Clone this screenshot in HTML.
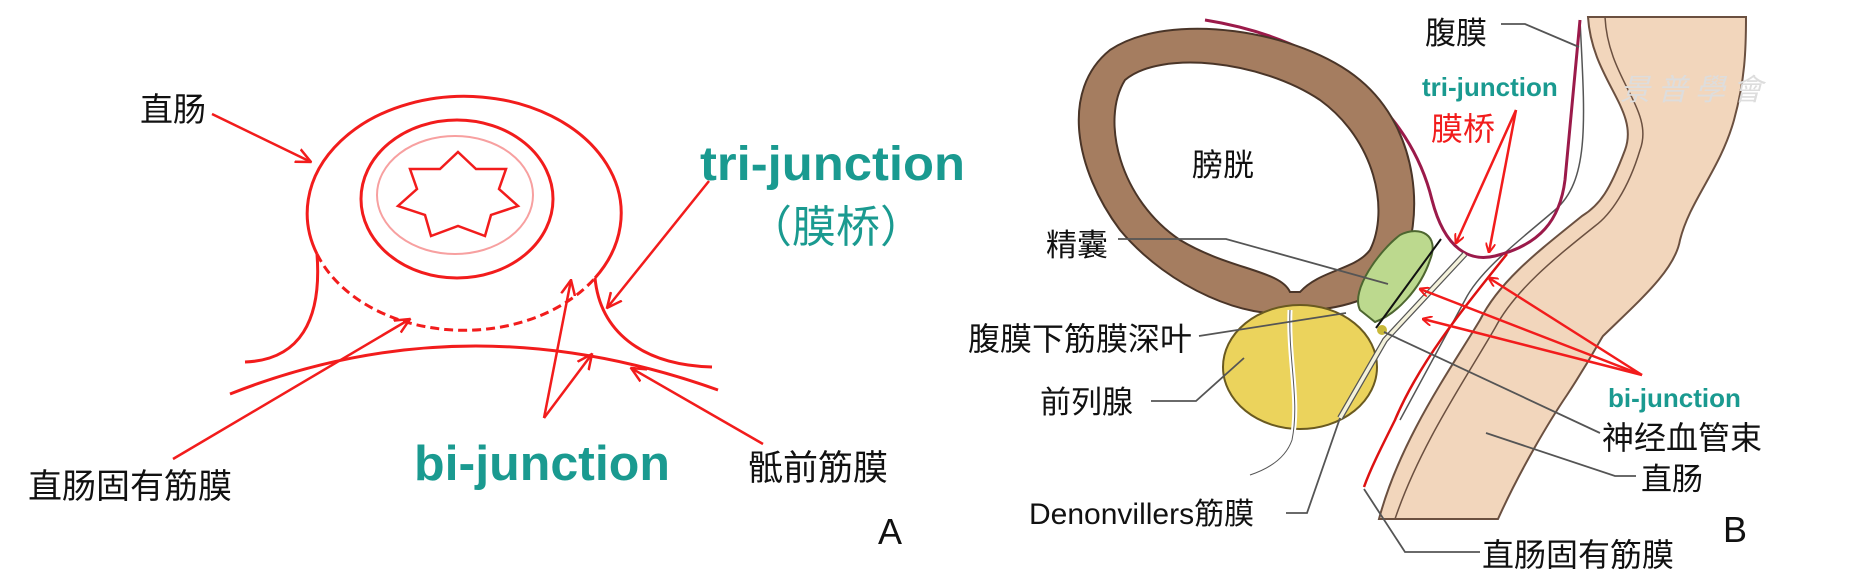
<!DOCTYPE html>
<html><head><meta charset="utf-8"><style>
html,body{margin:0;padding:0;background:#fff;}
svg{display:block;}
.cn{font-family:"Liberation Sans","Noto Sans CJK SC",sans-serif;fill:#111;}
.tl{font-family:"Liberation Sans","Noto Sans CJK SC",sans-serif;fill:#1a9a90;font-weight:bold;}
</style></head><body>
<svg width="1866" height="582" viewBox="0 0 1866 582" xmlns="http://www.w3.org/2000/svg">
<defs>
<marker id="ar" markerWidth="10" markerHeight="10" refX="9" refY="5" orient="auto" markerUnits="userSpaceOnUse" viewBox="0 0 10 10">
<path d="M0,0 L10,5 L0,10" fill="none" stroke="#f21c1c" stroke-width="2"/></marker>
<marker id="ar2" markerWidth="16" markerHeight="16" refX="15" refY="8" orient="auto" markerUnits="userSpaceOnUse" viewBox="0 0 16 16">
<path d="M0,1 L15,8 L0,15" fill="none" stroke="#f21c1c" stroke-width="2.5"/></marker>
</defs>
<!-- PANEL A -->
<g fill="none" stroke="#f21c1c" stroke-width="3">
<path d="M317,254 A157,117 0 1 1 595,278"/>
<path d="M317,254 A157,117 0 0 0 595,278" stroke-dasharray="9,5"/>
<ellipse cx="457" cy="199" rx="96" ry="79"/>
<ellipse cx="455" cy="195" rx="78" ry="59" stroke="#f7a0a0" stroke-width="2"/>
<polygon points="458,152 476,169 506,169 499,189 518,206 491,215 485,236 458,226 431,236 425,215 398,206 417,189 410,169 440,169" stroke-width="2.5"/>
<path d="M317,254 C322,320 300,360 245,362"/>
<path d="M595,278 C600,330 640,365 712,367"/>
<path d="M230,394 Q467,300 718,390"/>
<g stroke-width="2.5">
<line x1="212" y1="114" x2="311" y2="162" marker-end="url(#ar2)"/>
<line x1="173" y1="459" x2="410" y2="319" marker-end="url(#ar2)"/>
<line x1="709" y1="181" x2="607" y2="308" marker-end="url(#ar2)"/>
<line x1="544" y1="418" x2="571" y2="280" marker-end="url(#ar2)"/>
<line x1="544" y1="418" x2="592" y2="354" marker-end="url(#ar2)"/>
<line x1="763" y1="444" x2="631" y2="368" marker-end="url(#ar2)"/>
</g></g>
<text class="cn" x="140" y="121" font-size="33">直肠</text>
<text class="tl" x="700" y="180" font-size="48" textLength="265" lengthAdjust="spacingAndGlyphs">tri-junction</text>
<text class="tl" x="748" y="242" font-size="44" style="font-weight:normal">（膜桥）</text>
<text class="tl" x="414" y="480" font-size="49" textLength="256" lengthAdjust="spacingAndGlyphs">bi-junction</text>
<text class="cn" x="28" y="498" font-size="34">直肠固有筋膜</text>
<text class="cn" x="748" y="480" font-size="35">骶前筋膜</text>
<text class="cn" x="878" y="544" font-size="36">A</text>

<!-- PANEL B -->
<path d="M1588,17 C1592,80 1640,110 1625,150 C1610,190 1600,205 1582,216 C1540,250 1500,280 1480,320 C1450,370 1400,440 1379,519 L1498,519 C1520,470 1550,420 1567,395 C1590,360 1600,340 1603,336 C1640,300 1675,270 1680,240 C1690,200 1720,170 1734,120 C1745,80 1746,50 1746,17 Z" fill="#f2d6bc" stroke="#6b5040" stroke-width="2"/>
<path d="M1605,17 C1608,80 1655,110 1640,150 C1628,190 1610,215 1595,226 C1555,258 1515,290 1495,328 C1465,380 1420,445 1395,519" fill="none" stroke="#6b5040" stroke-width="1.5"/>
<path d="M1580,20 C1585,120 1590,180 1555,210 C1520,240 1480,270 1465,300 L1400,420" fill="none" stroke="#555" stroke-width="1.5"/>
<path d="M1205,20 C1330,40 1410,110 1432,200 C1445,250 1470,262 1495,256 C1540,245 1560,220 1565,180 L1580,20" fill="none" stroke="#9b1a4a" stroke-width="3"/>
<path d="M1290,312 C1250,320 1170,290 1120,230 C1075,170 1060,90 1110,50 C1170,10 1300,30 1360,80 C1420,130 1425,220 1400,270 C1380,300 1340,310 1290,312 Z" fill="#a57d60" stroke="#4a3528" stroke-width="2"/>
<path d="M1290,292 C1280,270 1230,270 1180,240 C1120,200 1100,120 1125,80 C1160,50 1260,60 1320,100 C1375,140 1390,210 1370,250 C1355,270 1320,270 1300,292 Z" fill="#fff" stroke="#4a3528" stroke-width="2"/>
<path d="M1360,310 C1350,290 1380,250 1400,235 C1420,225 1440,235 1430,260 C1420,290 1395,315 1375,322 Z" fill="#bcd98e" stroke="#4d6630" stroke-width="2"/>
<ellipse cx="1300" cy="367" rx="77" ry="62" fill="#ebd35c" stroke="#6a5a20" stroke-width="2"/>
<path d="M1290,310 C1288,360 1300,400 1292,440 C1285,460 1265,470 1250,475" fill="none" stroke="#fff" stroke-width="5"/>
<path d="M1290,310 C1288,360 1300,400 1292,440 C1285,460 1265,470 1250,475" fill="none" stroke="#555" stroke-width="1"/>
<path d="M1465,254 L1385,340 L1340,418" fill="none" stroke="#555" stroke-width="6"/>
<path d="M1465,254 L1385,340 L1340,418" fill="none" stroke="#f4f2dc" stroke-width="3.5"/>
<line x1="1441" y1="239" x2="1376" y2="328" stroke="#111" stroke-width="2"/>
<circle cx="1382" cy="330" r="5" fill="#c8b83a"/>
<path d="M1507,254 C1470,300 1420,360 1395,420 C1380,450 1370,470 1364,487" fill="none" stroke="#d11" stroke-width="2.5"/>
<g fill="none" stroke="#555" stroke-width="1.8">
<polyline points="1501,24 1525,24 1579,47"/>
<polyline points="1118,239 1226,239 1388,284"/>
<polyline points="1199,336 1346,313"/>
<polyline points="1151,401 1196,401 1244,358"/>
<polyline points="1286,513 1307,513 1340,418"/>
<polyline points="1364,489 1405,552 1480,552"/>
<polyline points="1600,433 1384,332"/>
<polyline points="1636,476 1615,476 1486,433"/>
</g>
<g stroke="#f21c1c" stroke-width="2.5">
<line x1="1516" y1="110" x2="1456" y2="243" marker-end="url(#ar)"/>
<line x1="1516" y1="110" x2="1489" y2="252" marker-end="url(#ar)"/>
<line x1="1642" y1="375" x2="1489" y2="278" marker-end="url(#ar)"/>
<line x1="1642" y1="375" x2="1420" y2="289" marker-end="url(#ar)"/>
<line x1="1642" y1="375" x2="1423" y2="319" marker-end="url(#ar)"/>
</g>
<text x="1620" y="100" font-family="Liberation Serif,serif" font-size="30" fill="#ddd" font-style="italic">景 普 學 會</text>
<text class="cn" x="1425" y="44" font-size="31">腹膜</text>
<text class="tl" x="1422" y="96" font-size="26">tri-junction</text>
<text class="cn" x="1431" y="140" font-size="32" style="fill:#f21c1c">膜桥</text>
<text class="cn" x="1192" y="176" font-size="31">膀胱</text>
<text class="cn" x="1046" y="256" font-size="31">精囊</text>
<text class="cn" x="968" y="350" font-size="32">腹膜下筋膜深叶</text>
<text class="cn" x="1040" y="413" font-size="31">前列腺</text>
<text class="cn" x="1029" y="524" font-size="30">Denonvillers筋膜</text>
<text class="tl" x="1608" y="407" font-size="26">bi-junction</text>
<text class="cn" x="1602" y="449" font-size="32">神经血管束</text>
<text class="cn" x="1641" y="490" font-size="31">直肠</text>
<text class="cn" x="1482" y="566" font-size="32">直肠固有筋膜</text>
<text class="cn" x="1723" y="542" font-size="36">B</text>
</svg>
</body></html>
